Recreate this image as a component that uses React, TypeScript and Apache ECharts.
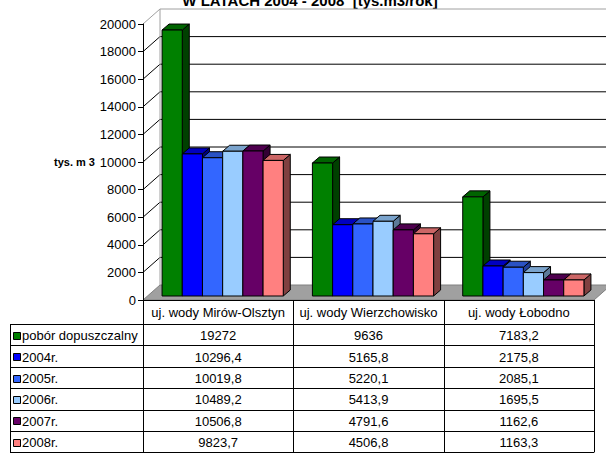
import React, { useEffect, useRef } from 'react';
import * as echarts from 'echarts';

const CATEGORIES = ['uj. wody Mirów-Olsztyn', 'uj. wody Wierzchowisko', 'uj. wody Łobodno'];
const SERIES_NAMES = ['pobór dopuszczalny', '2004r.', '2005r.', '2006r.', '2007r.', '2008r.'];
const POBOR = [19272, 9636, 7183.2];
const Y2004 = [10296.4, 5165.8, 2175.8];
const Y2005 = [10019.8, 5220.1, 2085.1];
const Y2006 = [10489.2, 5413.9, 1695.5];
const Y2007 = [10506.8, 4791.6, 1162.6];
const Y2008 = [9823.7, 4506.8, 1163.3];
const SERIES_VALUES = [POBOR, Y2004, Y2005, Y2006, Y2007, Y2008];
const Y_TICKS = [0, 2000, 4000, 6000, 8000, 10000, 12000, 14000, 16000, 18000, 20000];
const TITLE = 'W LATACH 2004 - 2008  [tys.m3/rok]';
const Y_NAME = 'tys. m 3';

const FRONT = ['#008000', '#0000FF', '#3366FF', '#99CCFF', '#660066', '#FF8080'];
const TOPC = ['#006400', '#0000C0', '#2A52C4', '#7AA3CC', '#4E004E', '#CC6666'];
const SIDE = ['#004000', '#000080', '#1F3D99', '#5C7A99', '#330033', '#804040'];

const FONT = 'Arial, Liberation Sans, sans-serif';
const GRID_L = 143;
const GRID_T = 24;
const GRID_W = 451;
const GRID_H = 276;
const DX = 17;
const DY = -15;
const BAR_OX = 4.5;
const BAR_OY = -4;
const BAR_DX = 7;
const BAR_DY = -6;
const BAR_FRAC = 20.2 / 150.33;
const TABLE_L = 10;
const HEAD_T = 300;
const ROW_T = 324;
const ROW_H = 21.4;

const fmt = (v: number) => String(v).replace('.', ',');

export default function App() {
  const ref = useRef<HTMLDivElement>(null);
  useEffect(() => {
    if (!ref.current) return;
    const chart = echarts.init(ref.current, null, { renderer: 'svg' });
    const yMax = Y_TICKS[Y_TICKS.length - 1];

    const wallSeries: any = {
      type: 'custom',
      coordinateSystem: 'cartesian2d',
      silent: true,
      z: 1,
      data: Y_TICKS.map((v) => [0, v]),
      encode: { x: 0, y: 1 },
      renderItem: (params: any, api: any) => {
        const v = api.value(1);
        const cs = params.coordSys;
        const y = api.coord([0, v])[1];
        const y0 = api.coord([0, 0])[1];
        const x0 = cs.x;
        const children: any[] = [];
        if (v === 0) {
          children.push({
            type: 'polygon',
            shape: { points: [[x0, y], [x0 + DX, y + DY], [x0 + cs.width + DX, y + DY], [x0 + cs.width, y]] },
            style: { fill: '#A0A0A0', stroke: '#808080', lineWidth: 1 },
          });
        } else {
          const col = v === yMax ? '#A0A0A0' : '#000000';
          children.push({
            type: 'line',
            shape: { x1: x0 + DX, y1: y + DY, x2: x0 + cs.width + DX + 20, y2: y + DY },
            style: { stroke: col, lineWidth: 1 },
          });
          children.push({
            type: 'line',
            shape: { x1: x0, y1: y, x2: x0 + DX, y2: y + DY },
            style: { stroke: col, lineWidth: 1 },
          });
          if (v === yMax) {
            children.push({
              type: 'line',
              shape: { x1: x0 + DX, y1: y + DY, x2: x0 + DX, y2: y0 + DY },
              style: { stroke: '#A0A0A0', lineWidth: 1 },
            });
          }
        }
        return { type: 'group', children };
      },
    };

    const barSeries = SERIES_VALUES.map((vals, si) => ({
      type: 'custom',
      name: SERIES_NAMES[si],
      coordinateSystem: 'cartesian2d',
      z: 2 + si,
      data: vals.map((v, i) => [i, v]),
      encode: { x: 0, y: 1 },
      renderItem: (params: any, api: any) => {
        const cat = api.value(0);
        const val = api.value(1);
        const base = api.coord([cat, 0]);
        const top = api.coord([cat, val]);
        const band = api.size([1, 0])[0];
        const bw = band * BAR_FRAC;
        const n = SERIES_VALUES.length;
        const x0 = base[0] - (n / 2) * bw + si * bw + BAR_OX;
        const x1 = x0 + bw;
        const yb = base[1] + BAR_OY;
        const yt = top[1] + BAR_OY;
        const stroke = { stroke: '#000', lineWidth: 1, lineJoin: 'round' };
        return {
          type: 'group',
          children: [
            {
              type: 'polygon',
              shape: { points: [[x1, yt], [x1 + BAR_DX, yt + BAR_DY], [x1 + BAR_DX, yb + BAR_DY], [x1, yb]] },
              style: { fill: SIDE[si], ...stroke },
            },
            {
              type: 'polygon',
              shape: { points: [[x0, yt], [x1, yt], [x1 + BAR_DX, yt + BAR_DY], [x0 + BAR_DX, yt + BAR_DY]] },
              style: { fill: TOPC[si], ...stroke },
            },
            {
              type: 'rect',
              shape: { x: x0, y: yt, width: bw, height: yb - yt },
              style: { fill: FRONT[si], ...stroke },
            },
          ],
        };
      },
    }));

    const graphic: any[] = [];
    graphic.push({
      type: 'text',
      x: 310,
      y: 0.5,
      style: { text: TITLE, fill: '#000', fontSize: 15, fontWeight: 'bold', fontFamily: FONT, align: 'center', verticalAlign: 'middle' },
    });
    graphic.push({
      type: 'text',
      x: 54,
      y: 162,
      style: { text: Y_NAME, fill: '#000', fontSize: 11, fontWeight: 'bold', fontFamily: FONT, align: 'left', verticalAlign: 'middle' },
    });
    const nRows = SERIES_NAMES.length;
    const tableR = GRID_L + GRID_W;
    const bottom = ROW_T + nRows * ROW_H;
    const colW = GRID_W / CATEGORIES.length;
    for (let i = 0; i <= nRows; i++) {
      const y = Math.round(ROW_T + i * ROW_H) + 0.5;
      graphic.push({ type: 'line', shape: { x1: TABLE_L, y1: y, x2: tableR, y2: y }, style: { stroke: '#000', lineWidth: 1 } });
    }
    graphic.push({ type: 'line', shape: { x1: TABLE_L + 0.5, y1: ROW_T, x2: TABLE_L + 0.5, y2: bottom }, style: { stroke: '#000', lineWidth: 1 } });
    for (let j = 0; j <= CATEGORIES.length; j++) {
      const x = Math.round(GRID_L + j * colW) + 0.5;
      graphic.push({ type: 'line', shape: { x1: x, y1: HEAD_T, x2: x, y2: bottom }, style: { stroke: '#000', lineWidth: 1 } });
    }
    SERIES_NAMES.forEach((name, r) => {
      const mid = ROW_T + r * ROW_H + ROW_H / 2 + 1;
      graphic.push({
        type: 'rect',
        shape: { x: 13.5, y: Math.round(mid - 4) + 0.5, width: 7, height: 7 },
        style: { fill: FRONT[r], stroke: '#000', lineWidth: 1 },
      });
      graphic.push({
        type: 'text',
        x: 22,
        y: mid,
        style: { text: name, fill: '#000', fontSize: 13, fontFamily: FONT, align: 'left', verticalAlign: 'middle' },
      });
      SERIES_VALUES[r].forEach((v, c) => {
        graphic.push({
          type: 'text',
          x: GRID_L + c * colW + colW / 2,
          y: mid,
          style: { text: fmt(v), fill: '#000', fontSize: 13, fontFamily: FONT, align: 'center', verticalAlign: 'middle' },
        });
      });
    });

    chart.setOption({
      animation: false,
      backgroundColor: '#FFFFFF',
      grid: { left: GRID_L, top: GRID_T, width: GRID_W, height: GRID_H, containLabel: false, outerBoundsMode: 'none' },
      xAxis: {
        type: 'category',
        data: CATEGORIES,
        axisLine: { show: true, lineStyle: { color: '#000', width: 1 } },
        axisTick: { show: false },
        axisLabel: { interval: 0, color: '#000', fontSize: 13, fontFamily: FONT, margin: 12, verticalAlign: 'middle' },
        splitLine: { show: false },
        z: 20,
      },
      yAxis: {
        type: 'value',
        min: 0,
        max: 20000,
        interval: 2000,
        axisLine: { show: true, lineStyle: { color: '#000', width: 1 } },
        axisTick: { show: true, length: 5, lineStyle: { color: '#000' } },
        axisLabel: { color: '#000', fontSize: 13, fontFamily: FONT, margin: 7, formatter: (v: number) => String(v) },
        splitLine: { show: false },
        z: 20,
      },
      series: [wallSeries, ...barSeries],
      graphic,
    });
    return () => chart.dispose();
  }, []);
  return <div ref={ref} style={{ position: 'absolute', left: 0, top: 0, width: 606, height: 461 }} />;
}
